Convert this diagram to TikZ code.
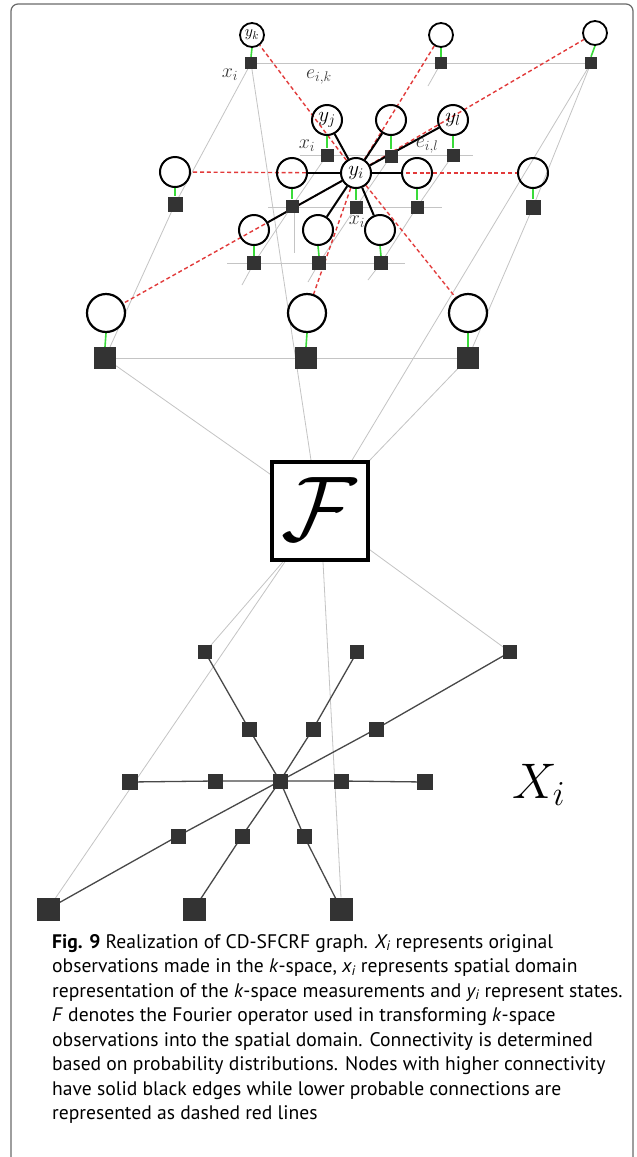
\RequirePackage{fix-cm}
\documentclass[tikz,border=0pt]{standalone}
\usepackage{fontspec}
\newfontfamily\capfont{PT Sans}
\newcommand\capsz{\capfont\fontsize{19.6}{24}\selectfont}
\usetikzlibrary{calc}
\pgfdeclarelayer{bg}
\pgfsetlayers{bg,main}
\definecolor{sqc}{HTML}{333333}
\definecolor{lgr}{HTML}{C4C4C4}
\definecolor{dred}{HTML}{E23A3A}
\definecolor{lgreen}{HTML}{3ADB3A}
\definecolor{frm}{HTML}{6A6A6A}
\definecolor{spk}{HTML}{484848}
\definecolor{lbl}{HTML}{3A3A3A}
\begin{document}
\begin{tikzpicture}[x=1pt,y=-1pt,
  gl/.style={draw=lgr, line width=0.8pt},
  rd/.style={draw=dred, dash pattern=on 4pt off 2.8pt, line width=1.4pt},
  bk/.style={draw=black, line width=2pt},
  gn/.style={draw=lgreen, line width=1.6pt},
  spoke/.style={draw=spk, line width=1.3pt},
  cS/.style={circle, draw=black, line width=1.8pt, inner sep=0pt, minimum size=24pt},
  cM/.style={circle, draw=black, line width=2pt, inner sep=0pt, minimum size=30pt},
  cL/.style={circle, draw=black, line width=2.2pt, inner sep=0pt, minimum size=38pt},
  sq/.style={rectangle, fill=sqc, inner sep=0pt, minimum size=#1},
  lab/.style={text=lbl, inner sep=0pt, font=\fontsize{20}{20}\selectfont},
  captext/.style={anchor=base west, inner sep=0pt, font=\capsz}
]
\useasboundingbox (0,0) rectangle (637,1157);
\begin{pgfonlayer}{bg}
\fill[white] (0,0) rectangle (637,1157);
\end{pgfonlayer}
\draw[frm, line width=1.2pt, rounded corners=7pt] (11,1157) -- (11,4) -- (633,4) -- (633,1157);

% ---------- top row ----------
\node[cS] (yk) at (252,35) {};
\node[sq=12] (xk) at (251,63) {};
\node[cS] (t2) at (441,35) {};
\node[sq=12] (xt2) at (441,63) {};
\node[cS] (t3) at (595,33) {};
\node[sq=12] (xt3) at (591,63) {};

% ---------- middle outer ----------
\node[cM] (fl) at (175,172) {};
\node[sq=15] (xfl) at (175,204) {};
\node[cM] (fr) at (533,173) {};
\node[sq=15] (xfr) at (533,207) {};

% ---------- inner cluster ----------
\node[cM] (yj) at (327,120) {};
\node[sq=13] (xj) at (327,155) {};
\node[cM] (m2) at (391,120) {};
\node[sq=13] (xm2) at (391,156) {};
\node[cM] (yl) at (453,120) {};
\node[sq=13] (xl) at (453,155) {};
\node[cM] (L) at (292,173) {};
\node[sq=13] (xL) at (292,206) {};
\node[cM] (yi) at (356,173) {};
\node[sq=13] (xi) at (356,207) {};
\node[cM] (R) at (417,173) {};
\node[sq=13] (xR) at (417,207) {};
\node[cM] (LL) at (254,230) {};
\node[sq=14] (xLL) at (254,263) {};
\node[cM] (LM) at (318,230) {};
\node[sq=14] (xLM) at (319,263) {};
\node[cM] (LR) at (380,230) {};
\node[sq=14] (xLR) at (381,263) {};

% ---------- bottom row ----------
\node[cL] (BL) at (106,313) {};
\node[sq=22] (xBL) at (105,358) {};
\node[cL] (BM) at (307,313) {};
\node[sq=22] (xBM) at (306,358) {};
\node[cL] (BR) at (468,313) {};
\node[sq=22] (xBR) at (468,358) {};

% ---------- labels ----------
\node (tyk) at (yk) {\fontsize{16}{16}\selectfont$y_k$};
\node (tyj) at (yj) {\fontsize{21}{21}\selectfont$y_j$};
\node (tyl) at (yl) {\fontsize{21}{21}\selectfont$y_l$};
\node (tyi) at (yi) {\fontsize{21}{21}\selectfont$y_i$};
\node[lab] (lx1) at (230,75) {$x_i$};
\node[lab] (le1) at (319,77) {$e_{i,k}$};
\node[lab] (lx2) at (307,146) {$x_i$};
\node[lab] (le2) at (427,146) {$e_{i,l}$};
\node[lab] (lx3) at (357,222) {$x_i$};

% ---------- Fourier box ----------
\node[draw=black, fill=white, line width=3.5pt, minimum width=96pt, minimum height=98pt, inner sep=0pt] (F) at (320,511) {};
\node (Fsym) at (319,509) {\fontsize{92}{92}\selectfont$\mathcal{F}$};

% ---------- k-space layer ----------
\node[sq=15] (c) at (280,781) {};
\node[sq=16] (h1) at (130,782) {};
\node[sq=15] (h2) at (215,781) {};
\node[sq=15] (h3) at (341,781) {};
\node[sq=16] (h4) at (425,782) {};
\node[sq=14] (u1) at (205,652) {};
\node[sq=14] (u2) at (357,652) {};
\node[sq=14] (u3) at (510,652) {};
\node[sq=15] (m1) at (249,729) {};
\node[sq=15] (mm) at (313,729) {};
\node[sq=15] (m3) at (376,729) {};
\node[sq=15] (l1) at (178,836) {};
\node[sq=15] (l2) at (242,836) {};
\node[sq=15] (l3) at (304,836) {};
\node[sq=23] (b1) at (48,909) {};
\node[sq=23] (b2) at (194,909) {};
\node[sq=23] (b3) at (341,909) {};
\node[anchor=base west, inner sep=0pt] (Xi) at (512,798) {\fontsize{50}{50}\selectfont$X_i$};

% ---------- free line ends ----------
\coordinate (h1a) at (300,155); \coordinate (h1b) at (473,155);
\coordinate (h2a) at (268,207); \coordinate (h2b) at (442,207);
\coordinate (h3a) at (227,263); \coordinate (h3b) at (405,263);
\coordinate (v1a) at (294,210); \coordinate (v1b) at (294,253);
\coordinate (st0) at (428,86);
\coordinate (stL) at (242,285);
\coordinate (stM) at (308,282);
\coordinate (stR) at (368,280);

\begin{pgfonlayer}{bg}
  % gray lines upper
  \draw[gl] (xk.center) -- (xt3.center);
  \draw[gl] (xk.center) -- (xfl.center) -- (xBL.center);
  \draw[gl] (xk.center) -- ($(F.north)+(-9,0)$);
  \draw[gl] (xt3.center) -- (xfr.center) -- (xBR.center);
  \draw[gl] (xt3.center) -- ($(F.north)+(32,0)$);
  \draw[gl] (xBL.center) -- (xBR.center);
  \draw[gl] (xBL.center) -- ($(F.north west)+(0,14)$);
  \draw[gl] (xBR.center) -- (F.north east);
  \draw[gl] (xt2.center) -- (st0);
  \draw[gl] (h1a) -- (h1b);
  \draw[gl] (h2a) -- (h2b);
  \draw[gl] (h3a) -- (h3b);
  \draw[gl] (v1a) -- (v1b);
  \draw[gl] (xj.center) -- (xL.center) -- (xLL.center) -- (stL);
  \draw[gl] (xm2.center) -- (xi.center) -- (xLM.center) -- (stM);
  \draw[gl] (xl.center) -- (xR.center) -- (xLR.center) -- (stR);
  % gray lines lower
  \draw[gl] ($(F.south)+(-37,0)$) -- (u1.center);
  \draw[gl] ($(F.south)+(-35,0)$) -- (b1.center);
  \draw[gl] ($(F.south)+(3,0)$) -- (b3.north);
  \draw[gl] ($(F.south east)+(0,-12)$) -- (u3.center);
  % red dashed
  \draw[rd] (yi) -- (yk);
  \draw[rd] (yi) -- (t2);
  \draw[rd] (yi) -- (t3);
  \draw[rd] (yi) -- (fl);
  \draw[rd] (yi) -- (fr);
  \draw[rd] (yi) -- (BL);
  \draw[rd] (yi) -- (BM);
  \draw[rd] (yi) -- (BR);
  % black edges
  \foreach \n in {yj,m2,yl,L,R,LL,LM,LR} \draw[bk] (yi) -- (\n);
  % green links
  \foreach \a/\b in {yk/xk,t2/xt2,t3/xt3,fl/xfl,fr/xfr,yj/xj,m2/xm2,yl/xl,L/xL,yi/xi,R/xR,LL/xLL,LM/xLM,LR/xLR,BL/xBL,BM/xBM,BR/xBR}
    \draw[gn] (\a.south) -- (\b.north);
  % spokes
  \draw[spoke] (c.center) -- (m1.center) -- (u1.center);
  \draw[spoke] (c.center) -- (mm.center) -- (u2.center);
  \draw[spoke] (c.center) -- (m3.center) -- (u3.center);
  \draw[spoke] (c.center) -- (h2.center) -- (h1.center);
  \draw[spoke] (c.center) -- (h3.center) -- (h4.center);
  \draw[spoke] (c.center) -- (l1.center) -- (b1.center);
  \draw[spoke] (c.center) -- (l2.center) -- (b2.center);
  \draw[spoke] (c.center) -- (l3.center) -- (b3.center);
\end{pgfonlayer}

% ---------- caption ----------
\node[captext] (cap1) at (52,948) {\textbf{Fig. 9} Realization of CD-SFCRF graph. \textit{X\textsubscript{i}} represents original};
\node[captext] (cap2) at (52,972.5) {observations made in the \textit{k}-space, \textit{x\textsubscript{i}} represents spatial domain};
\node[captext] (cap3) at (52,997) {representation of the \textit{k}-space measurements and \textit{y\textsubscript{i}} represent states.};
\node[captext] (cap4) at (52,1021.5) {\textit{F} denotes the Fourier operator used in transforming \textit{k}-space};
\node[captext] (cap5) at (52,1046) {observations into the spatial domain. Connectivity is determined};
\node[captext] (cap6) at (52,1070.5) {based on probability distributions. Nodes with higher connectivity};
\node[captext] (cap7) at (52,1095) {have solid black edges while lower probable connections are};
\node[captext] (cap8) at (52,1119.5) {represented as dashed red lines};
\end{tikzpicture}
\end{document}
